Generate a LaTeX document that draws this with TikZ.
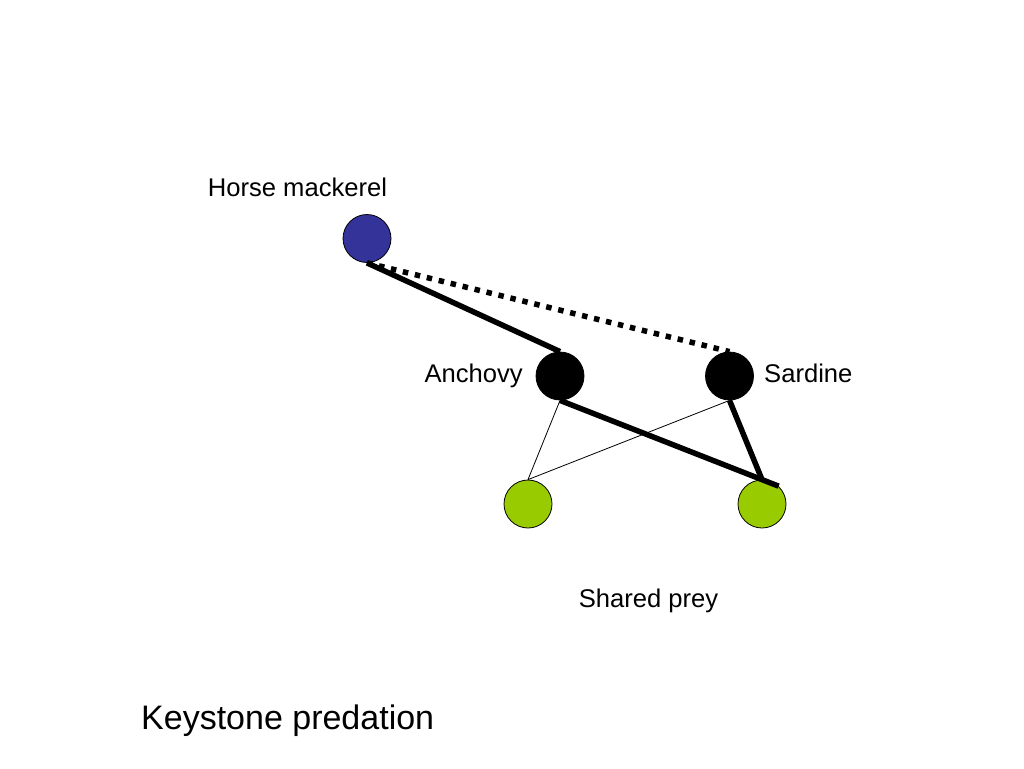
\documentclass[tikz,border=0pt]{standalone}
\usepackage{fontspec}
\setmainfont{Liberation Sans}
\definecolor{hmblue}{HTML}{333399}
\definecolor{preygreen}{HTML}{99CC00}
\begin{document}
\begin{tikzpicture}[x=1pt,y=-1pt,
  species/.style={circle,draw=black,line width=0.8pt,minimum size=48pt,inner sep=0pt},
  strong/.style={line width=5.5pt,line cap=butt},
  weak/.style={line width=0.8pt},
  indirect/.style={line width=5.5pt,dash pattern=on 5.5pt off 6.8pt},
  lbl/.style={font=\fontsize{25.6}{30}\selectfont,inner sep=0pt}]
\useasboundingbox (0,0) rectangle (1024,768);
\node[species,fill=hmblue] (hm) at (367,238.5) {};
\node[species,fill=black] (anch) at (560,376) {};
\node[species,fill=black] (sard) at (729.5,376) {};
\node[species,fill=preygreen] (gl) at (528,504) {};
\node[species,fill=preygreen] (gr) at (762,504) {};
\draw[strong] (hm.south) -- (anch.north);
\draw[indirect] (hm.south) -- (sard.north);
\draw[strong] (anch.south) -- (gr.47);
\draw[strong] (sard.south) -- (gr.north);
\draw[weak] (anch.south) -- (gl.north);
\draw[weak] (sard.south) -- (gl.north);
\node[lbl,anchor=base] (hmlbl) at (297.5,196) {Horse mackerel};
\node[lbl,anchor=base east] (anchlbl) at (523,382) {Anchovy};
\node[lbl,anchor=base west] (sardlbl) at (764,382) {Sardine};
\node[lbl,anchor=base] (preylbl) at (648.5,607) {Shared prey};
\node[font=\fontsize{34}{40}\selectfont,inner sep=0pt,anchor=base west] (title) at (141,729) {Keystone predation};
\end{tikzpicture}
\end{document}
